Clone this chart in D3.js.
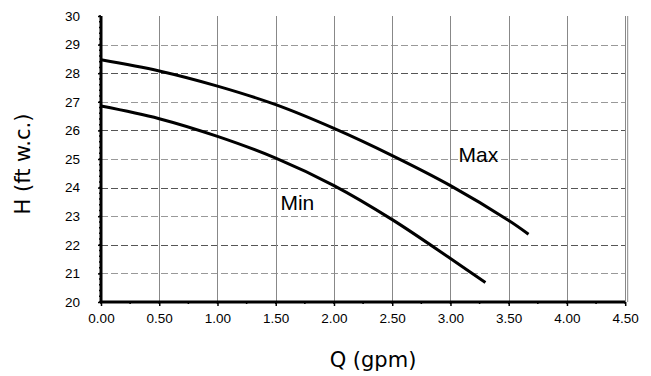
<!DOCTYPE html>
<html><head><meta charset="utf-8">
<script src="https://cdn.jsdelivr.net/npm/d3@7"></script>
<style>body{margin:0;background:#fff}svg{display:block}</style>
</head><body>
<svg id="c" width="651" height="376"></svg>
<script>
const maxQ = [0, 0.5, 1.0, 1.5, 2.0, 2.5, 3.0, 3.5, 3.67];
const maxH = [28.47, 28.08, 27.55, 26.90, 26.07, 25.12, 24.07, 22.85, 22.37];
const minQ = [0, 0.5, 1.0, 1.5, 2.0, 2.5, 3.0, 3.3];
const minH = [26.85, 26.41, 25.79, 25.03, 24.07, 22.88, 21.52, 20.68];
const xTicks = [0, 0.5, 1.0, 1.5, 2.0, 2.5, 3.0, 3.5, 4.0, 4.5];
const yTicks = [20, 21, 22, 23, 24, 25, 26, 27, 28, 29, 30];
const seriesLabels = [{text: "Max", q: 3.07, h: 24.9}, {text: "Min", q: 1.54, h: 23.2}];

const svg = d3.select("#c");
const x = d3.scaleLinear().domain([0, 4.5]).range([101, 625.2]);
const y = d3.scaleLinear().domain([20, 30]).range([302, 16]);

// horizontal dashed grid
svg.append("g").selectAll("line").data(yTicks.filter(v => v > 20 && v < 30)).join("line")
  .attr("x1", x(0)).attr("x2", x(4.5))
  .attr("y1", d => Math.round(y(d)) + 0.5).attr("y2", d => Math.round(y(d)) + 0.5)
  .attr("stroke", d => d % 2 === 0 ? "#555" : "#999")
  .attr("stroke-width", 1).attr("stroke-dasharray", "7,3");

// vertical grid
svg.append("g").selectAll("line").data(xTicks.filter(v => v > 0)).join("line")
  .attr("x1", d => Math.round(x(d)) + 0.5).attr("x2", d => Math.round(x(d)) + 0.5)
  .attr("y1", y(30)).attr("y2", y(20))
  .attr("stroke", "#888").attr("stroke-width", 1);
// right border
svg.append("line").attr("x1", x(4.5) + 2.5).attr("x2", x(4.5) + 2.5)
  .attr("y1", y(30)).attr("y2", y(20)).attr("stroke", "#888").attr("stroke-width", 1);

// minor ticks
const yMinor = d3.range(20, 30.001, 0.2);
svg.append("g").selectAll("line").data(yMinor).join("line")
  .attr("x1", x(0) - 2).attr("x2", x(0))
  .attr("y1", d => y(d)).attr("y2", d => y(d))
  .attr("stroke", "#000").attr("stroke-width", 1.5);
const xMinor = d3.range(0, 4.5001, 0.25);
svg.append("g").selectAll("line").data(xMinor).join("line")
  .attr("x1", d => x(d)).attr("x2", d => x(d))
  .attr("y1", y(20)).attr("y2", y(20) + 2)
  .attr("stroke", "#000").attr("stroke-width", 1.5);

// axes
const yAxis = d3.axisLeft(y).tickValues(yTicks).tickFormat(d3.format("d")).tickSize(3).tickPadding(18);
const gy = svg.append("g").attr("transform", `translate(${x(0)},0)`).call(yAxis);
const xAxis = d3.axisBottom(x).tickValues(xTicks).tickFormat(d3.format(".2f")).tickSize(4).tickPadding(7);
const gx = svg.append("g").attr("transform", `translate(0,${y(20)})`).call(xAxis);
[gx, gy].forEach(g => {
  g.select(".domain").attr("stroke", "#000").attr("stroke-width", 3);
  g.selectAll(".tick line").attr("stroke", "#000").attr("stroke-width", 1.5);
  g.selectAll("text").attr("font-family", "Liberation Sans, Arial, sans-serif")
    .attr("font-size", 13.5).attr("fill", "#000");
});
gy.select(".domain").attr("d", `M0,${y(30)}V${y(20)}`);
gx.select(".domain").attr("d", `M${x(0)},0H${x(4.5)}`);

// curves
const line = d3.line().x(d => x(d[0])).y(d => y(d[1])).curve(d3.curveCatmullRom.alpha(0.5));
[[maxQ, maxH], [minQ, minH]].forEach(([qs, hs]) => {
  svg.append("path").datum(qs.map((q, i) => [q, hs[i]]))
    .attr("d", line).attr("fill", "none").attr("stroke", "#000").attr("stroke-width", 3);
});

// series labels
svg.append("g").selectAll("text").data(seriesLabels).join("text")
  .attr("x", d => x(d.q)).attr("y", d => y(d.h))
  .attr("font-family", "Liberation Sans, Arial, sans-serif").attr("font-size", 21)
  .text(d => d.text);

// axis titles
svg.append("text").attr("x", 373).attr("y", 367).attr("text-anchor", "middle")
  .attr("font-family", "DejaVu Sans, Verdana, sans-serif").attr("font-size", 21)
  .text("Q (gpm)");
svg.append("text").attr("transform", "translate(30,164) rotate(-90)").attr("text-anchor", "middle")
  .attr("font-family", "DejaVu Sans, Verdana, sans-serif").attr("font-size", 21)
  .text("H (ft w.c.)");
</script>
</body></html>
